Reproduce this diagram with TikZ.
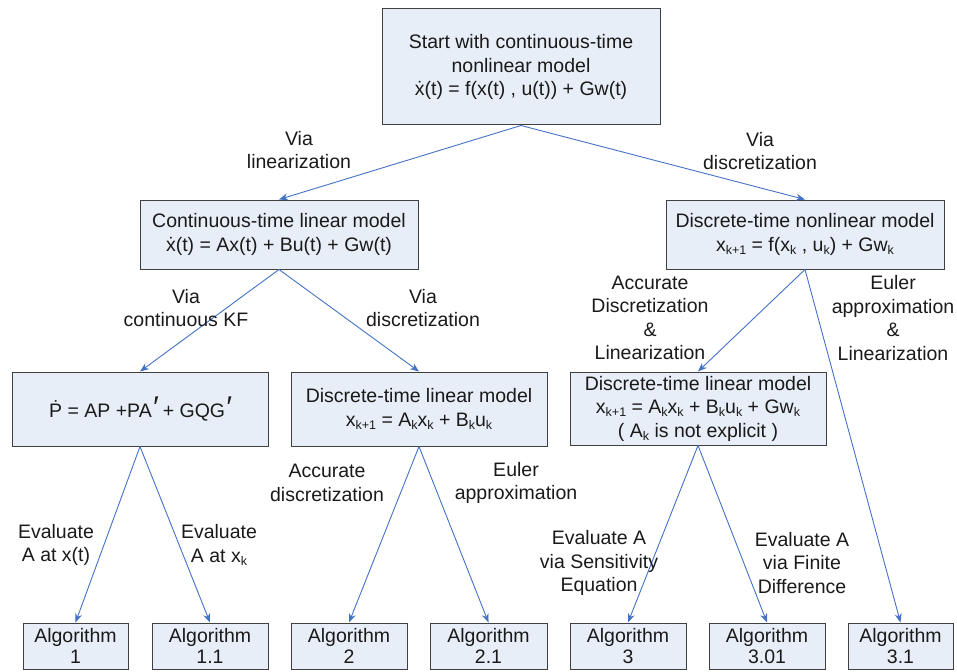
\documentclass[tikz,border=0pt]{standalone}
\usepackage{fontspec}
\setmainfont{Liberation Sans}
\usetikzlibrary{arrows.meta}
\definecolor{boxfill}{HTML}{E8EEF7}
\definecolor{boxline}{HTML}{404040}
\definecolor{arrowblue}{HTML}{4472C4}
\definecolor{txt}{HTML}{1A1A1A}
\newcommand\lsub[1]{\raisebox{-0.3ex}{\fontsize{12.5}{12.5}\selectfont #1}}
\newcommand\mprime{\raisebox{0.05ex}{\fontsize{30}{30}\selectfont\itshape ′}}
\begin{document}
\begin{tikzpicture}[x=1pt,y=-1pt,
  every node/.style={font=\fontsize{19.5}{23.5}\selectfont, text=txt},
  box/.style={draw=boxline, fill=boxfill, line width=1pt, align=center, inner sep=2pt},
  algbox/.style={box, minimum height=46pt, font=\fontsize{19.5}{21.5}\selectfont},
  lbl/.style={align=center, inner sep=1pt},
  conn/.style={draw=arrowblue, line width=0.9pt, -{Stealth[length=9pt,width=7pt]}}]
\useasboundingbox (0,0) rectangle (957,671);
% boxes
\node[box, minimum width=278pt, minimum height=116pt] (top) at (521,67)
  {Start with continuous-time\\nonlinear model\\\.x(t) = f(x(t) , u(t)) + Gw(t)};
\node[box, minimum width=278pt, minimum height=69pt] (ctl) at (279,234.5)
  {Continuous-time linear model\\\.x(t) = Ax(t) + Bu(t) + Gw(t)};
\node[box, minimum width=278pt, minimum height=69pt] (dtn) at (805,234.5)
  {Discrete-time nonlinear model\\x\lsub{k+1} = f(x\lsub{k} , u\lsub{k}) + Gw\lsub{k}};
\node[box, minimum width=256pt, minimum height=74pt] (pbox) at (140,409)
  {\.P = AP +PA\mprime{} + GQG\mprime};
\node[box, minimum width=256pt, minimum height=74pt] (dtl) at (419,409)
  {Discrete-time linear model\\x\lsub{k+1} = A\lsub{k}x\lsub{k} + B\lsub{k}u\lsub{k}};
\node[box, minimum width=256pt, minimum height=73pt] (dtl2) at (698,408.5)
  {Discrete-time linear model\\x\lsub{k+1} = A\lsub{k}x\lsub{k} + B\lsub{k}u\lsub{k} + Gw\lsub{k}\\( A\lsub{k} is not explicit )};
\node[algbox, minimum width=105pt] (a1) at (75.5,646) {Algorithm\\1};
\node[algbox, minimum width=116pt] (a11) at (210,646) {Algorithm\\1.1};
\node[algbox, minimum width=116pt] (a2) at (349,646) {Algorithm\\2};
\node[algbox, minimum width=117pt] (a21) at (488.5,646) {Algorithm\\2.1};
\node[algbox, minimum width=116pt] (a3) at (628,646) {Algorithm\\3};
\node[algbox, minimum width=116pt] (a301) at (767,646) {Algorithm\\3.01};
\node[algbox, minimum width=105pt] (a31) at (900.5,646) {Algorithm\\3.1};
% connectors
\draw[conn] (top.south) -- (ctl.north);
\draw[conn] (top.south) -- (dtn.north);
\draw[conn] (ctl.south) -- (pbox.north);
\draw[conn] (ctl.south) -- (dtl.north);
\draw[conn] (dtn.south) -- (dtl2.north);
\draw[conn] (dtn.south) -- (a31.north);
\draw[conn] (pbox.south) -- (a1.north);
\draw[conn] (pbox.south) -- (a11.north);
\draw[conn] (dtl.south) -- (a2.north);
\draw[conn] (dtl.south) -- (a21.north);
\draw[conn] (dtl2.south) -- (a3.north);
\draw[conn] (dtl2.south) -- (a301.north);
% labels
\node[lbl] (l1) at (299,150) {Via\\linearization};
\node[lbl] (l2) at (760,151) {Via\\discretization};
\node[lbl] (l3) at (186,308) {Via\\continuous KF};
\node[lbl] (l4) at (423,308) {Via\\discretization};
\node[lbl] (l5) at (650,318) {Accurate\\Discretization\\\&\\Linearization};
\node[lbl] (l6) at (893,318) {Euler\\approximation\\\&\\Linearization};
\node[lbl] (l7) at (327,483) {Accurate\\discretization};
\node[lbl] (l8) at (516,483) {Euler\\approximation};
\node[lbl] (l9) at (56,545) {Evaluate\\A at x(t)};
\node[lbl] (l10) at (219,545) {Evaluate\\A at x\lsub{k}};
\node[lbl] (l11) at (599,563) {Evaluate A\\via Sensitivity\\Equation};
\node[lbl] (l12) at (802,563) {Evaluate A\\via Finite\\Difference};
\end{tikzpicture}
\end{document}
